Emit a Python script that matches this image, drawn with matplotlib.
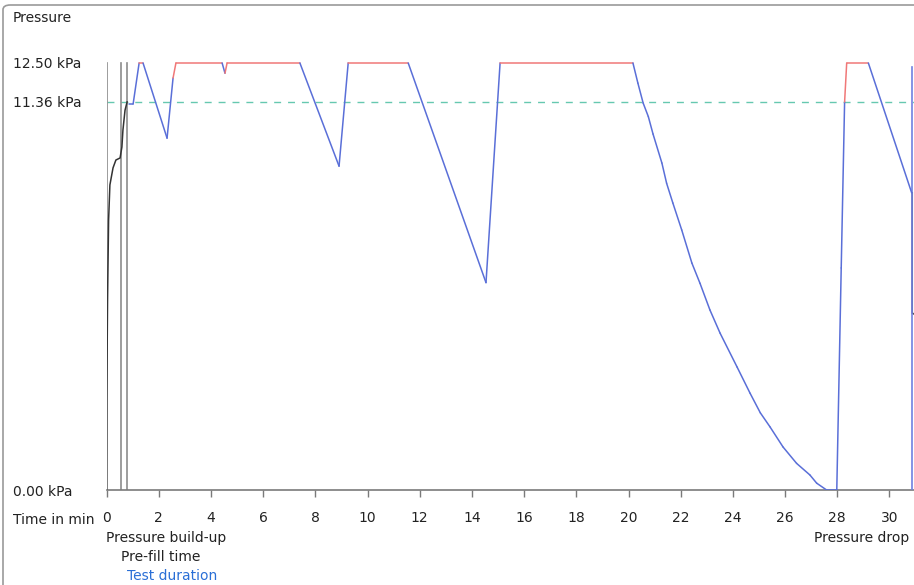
import numpy as np
import matplotlib
matplotlib.use("Agg")
import matplotlib.pyplot as plt
from matplotlib.patches import FancyBboxPatch

# --- pressure record (time in min, pressure in kPa) ---
buildup_t = [0.0, 0.01, 0.04, 0.08, 0.13, 0.25, 0.36, 0.52, 0.59, 0.63, 0.71, 0.79]
buildup_p = [0.0, 2.63, 5.56, 7.90, 8.93, 9.43, 9.66, 9.72, 10.04, 10.54, 11.12, 11.36]

test_t = [0.86, 1.02, 1.25, 1.40, 2.32, 2.55, 2.66, 4.43, 4.54, 4.62, 7.41, 8.91,
          9.26, 11.56, 14.54, 15.08, 20.17, 20.36, 20.56, 20.76, 20.94, 21.28,
          21.46, 21.70, 22.04, 22.43, 22.74, 23.12, 23.51, 24.16, 24.66, 25.05,
          25.42, 25.92, 26.44, 26.95, 27.21, 27.59, 27.98, 28.15, 28.28, 28.36,
          29.19, 30.85]
test_p = [11.30, 11.30, 12.50, 12.50, 10.30, 12.06, 12.50, 12.50, 12.20, 12.50,
          12.50, 9.48, 12.50, 12.50, 6.07, 12.50, 12.50, 11.91, 11.33, 10.93,
          10.42, 9.57, 8.98, 8.40, 7.61, 6.64, 6.05, 5.27, 4.59, 3.60, 2.83,
          2.26, 1.85, 1.26, 0.78, 0.44, 0.20, 0.00, 0.00, 6.50, 11.36, 12.50,
          12.50, 8.70]

next_t = [30.87, 30.87, 30.94]
next_p = [8.70, 5.18, 5.15]

cursor_t = 30.86
cursor_top = 12.38

max_pressure = 12.50
test_pressure = 11.36

phase_t = [0.0, 0.57, 0.78]
phase_labels = ["Pressure build-up", "Pre-fill time", "Test duration"]
phase_colors = ["#222222", "#222222", "#2a6fd6"]

xticks = list(range(0, 31, 2))

# --- figure ---
W, H, DPI = 914, 585, 100
fig = plt.figure(figsize=(W / DPI, H / DPI), dpi=DPI)
plt.rcParams["font.family"] = ["DejaVu Sans"]

px_per_min = 26.1
px_per_kpa = 34.16
x0, y0 = 106.5, 490.0
ymax = 13.2
ax_h = ymax * px_per_kpa
ax = fig.add_axes([x0 / W, (H - y0) / H, (W - x0) / W, ax_h / H])
ax.set_xlim(0, (W - x0) / px_per_min)
ax.set_ylim(0, ymax)

# window frame
frame = FancyBboxPatch((3 / W, -0.1), 1.2, (H - 5) / H + 0.1,
                       boxstyle="round,pad=0,rounding_size=0.008",
                       transform=fig.transFigure, fill=False,
                       edgecolor="#9a9a9a", lw=1.2, clip_on=False)
fig.patches.append(frame)

for s in ["top", "right", "left"]:
    ax.spines[s].set_visible(False)
ax.spines["bottom"].set_color("#7a7a7a")
ax.spines["bottom"].set_linewidth(1.2)

# phase boundaries
for t in phase_t:
    ax.plot([t, t], [0, max_pressure], color="#8c8c8c", lw=1.2, zorder=2)

# test pressure threshold
ax.axhline(test_pressure, color="#66c8b0", lw=1.0, ls=(0, (5, 5)), zorder=1)

# build-up curve
ax.plot(buildup_t, buildup_p, color="#333333", lw=1.1, zorder=3)

# test trace: red while holding at/above test pressure, blue otherwise
for i in range(len(test_t) - 1):
    p_a, p_b = test_p[i], test_p[i + 1]
    held = p_b >= p_a and min(p_a, p_b) >= test_pressure
    ax.plot(test_t[i:i + 2], test_p[i:i + 2],
            color="#f07878" if held else "#5a6fd8", lw=1.1,
            solid_capstyle="round", zorder=4)

ax.plot(next_t, next_p, color="#555555", lw=1.2, zorder=3)
ax.plot([cursor_t, cursor_t], [0, cursor_top], color="#6f80e0", lw=1.2, zorder=3)

# axes ticks / labels
ax.set_xticks(xticks)
ax.set_xticklabels([str(v) for v in xticks])
ax.tick_params(axis="x", length=5, width=1.0, color="#7a7a7a", pad=10,
               labelsize=10, labelcolor="#222222")
ax.set_yticks([0, test_pressure, max_pressure])
ax.set_yticklabels([f"{v:.2f} kPa" for v in [0, test_pressure, max_pressure]])
ax.tick_params(axis="y", length=0, pad=(x0 - 13) * 72 / DPI, labelsize=10,
               labelcolor="#222222")
for lbl in ax.get_yticklabels():
    lbl.set_horizontalalignment("left")

fig.text(13 / W, 1 - 17.5 / H, "Pressure", fontsize=10, color="#222222",
         ha="left", va="center")
fig.text(13 / W, 1 - 520 / H, "Time in min", fontsize=10, color="#222222",
         ha="left", va="center")

trans = ax.get_xaxis_transform()
for i, (t, lab, c) in enumerate(zip(phase_t, phase_labels, phase_colors)):
    y_px = 538 + 19 * i
    ax.text(t, -(y_px - y0) / ax_h, lab, transform=trans, fontsize=10,
            color=c, ha="left", va="center", clip_on=False)
ax.text(30.75, -(538 - y0) / ax_h, "Pressure drop", transform=trans,
        fontsize=10, color="#222222", ha="right", va="center", clip_on=False)

fig.savefig("out.png", dpi=DPI)
